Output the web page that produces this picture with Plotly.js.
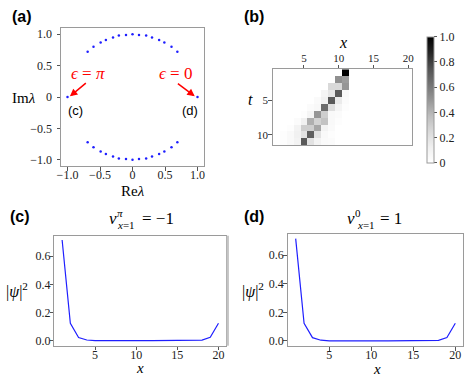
<!DOCTYPE html>
<html>
<head>
<meta charset="utf-8">
<script src="https://cdn.plot.ly/plotly-3.0.1.min.js"></script>
<style>
html,body{margin:0;padding:0;background:#fff;}
#chart{width:469px;height:380px;}
</style>
</head>
<body>
<div id="chart"></div>
<script>
// ---------- Panel (a): eigenvalues ----------
const reArc = [-0.69, -0.60, -0.49, -0.41, -0.30, -0.21, -0.10, 0.00, 0.10, 0.21, 0.30, 0.41, 0.49, 0.60, 0.69];
const imArcTop = [0.72, 0.80, 0.87, 0.91, 0.95, 0.98, 0.99, 1.00, 0.99, 0.98, 0.95, 0.91, 0.87, 0.80, 0.72];
const imArcBottom = [-0.72, -0.80, -0.87, -0.91, -0.95, -0.98, -0.99, -1.00, -0.99, -0.98, -0.95, -0.91, -0.87, -0.80, -0.72];
const reEdge = [-1.0, 1.0];
const imEdge = [0.0, 0.0];

// ---------- Panel (b): |psi|^2 over x (columns) and t (rows) ----------
const xSites = [1,2,3,4,5,6,7,8,9,10,11,12,13,14,15,16,17,18,19,20];
const tSteps = [1,2,3,4,5,6,7,8,9,10,11];
const probRows = [
  [0,0,0,0,0,0,0,0,0,0,1.00,0,0,0,0,0,0,0,0,0],
  [0,0,0,0,0,0,0,0,0,0.52,0.48,0,0,0,0,0,0,0,0,0],
  [0,0,0,0,0,0,0,0,0.25,0.25,0.50,0,0,0,0,0,0,0,0,0],
  [0,0,0,0,0,0,0,0.08,0.18,0.72,0.05,0,0,0,0,0,0,0,0,0],
  [0,0,0,0,0,0,0.04,0.12,0.72,0.15,0.03,0,0,0,0,0,0,0,0,0],
  [0,0,0,0,0,0.03,0.06,0.65,0.22,0.08,0.02,0,0,0,0,0,0,0,0,0],
  [0,0,0,0,0.02,0.08,0.50,0.30,0.05,0.03,0,0,0,0,0,0,0,0,0,0],
  [0,0,0,0.03,0.12,0.42,0.28,0.35,0.05,0.02,0,0,0,0,0,0,0,0,0,0],
  [0,0,0.02,0.10,0.30,0.30,0.45,0.10,0.04,0,0,0,0,0,0,0,0,0,0,0],
  [0,0.02,0.05,0.12,0.20,0.70,0.20,0.05,0.02,0,0,0,0,0,0,0,0,0,0,0],
  [0,0.02,0.05,0.10,0.72,0.20,0.10,0.04,0.03,0,0,0,0,0,0,0,0,0,0,0]
];
const cbTickVals = [0, 0.2, 0.4, 0.6, 0.8, 1.0];
const cbTickText = ['0', '0.2', '0.4', '0.6', '0.8', '1.0'];

// ---------- Panels (c) and (d): edge-state profiles ----------
const xProfile = [1,2,3,4,5,6,7,8,9,10,11,12,13,14,15,16,17,18,19,20];
const psiPi = [0.715, 0.124, 0.023, 0.005, 0.001, 0, 0, 0, 0, 0, 0, 0, 0, 0, 0, 0, 0.001, 0.004, 0.024, 0.124];
const psiZero = [0.715, 0.124, 0.023, 0.005, 0.001, 0, 0, 0, 0, 0, 0, 0, 0, 0, 0, 0, 0.001, 0.004, 0.024, 0.124];

// ---------- helpers ----------
const W = 469, H = 380;
const px = v => v / W;
const py = v => 1 - v / H;
const SERIF = 'Liberation Serif, DejaVu Serif, serif';
const SANS = 'Liberation Sans, Arial, sans-serif';
const LINE = '#9a9a9a';
const TICK = '#555';
const BLUE = '#1f1fff';

function ann(text, x, y, size, opts) {
  return Object.assign({
    text: text, xref: 'paper', yref: 'paper', x: px(x), y: py(y),
    xanchor: 'center', yanchor: 'middle', showarrow: false,
    font: {family: SERIF, size: size, color: '#000'}
  }, opts || {});
}

function baseAxis(extra) {
  return Object.assign({
    showline: true, mirror: true, linecolor: LINE, linewidth: 1,
    ticks: 'outside', ticklen: 3.5, tickwidth: 1, tickcolor: TICK,
    showgrid: false, zeroline: false, fixedrange: true,
    tickfont: {family: SERIF, size: 12, color: '#222'}
  }, extra);
}

const mplGreys = [
  [0.0, 'rgb(255,255,255)'], [0.125, 'rgb(240,240,240)'], [0.25, 'rgb(217,217,217)'],
  [0.375, 'rgb(189,189,189)'], [0.5, 'rgb(150,150,150)'], [0.625, 'rgb(115,115,115)'],
  [0.75, 'rgb(82,82,82)'], [0.875, 'rgb(37,37,37)'], [1.0, 'rgb(0,0,0)']
];

const traces = [
  {type: 'scatter', mode: 'markers', x: reArc, y: imArcTop, xaxis: 'x', yaxis: 'y',
   marker: {color: BLUE, size: 2.5}, hoverinfo: 'skip'},
  {type: 'scatter', mode: 'markers', x: reArc, y: imArcBottom, xaxis: 'x', yaxis: 'y',
   marker: {color: BLUE, size: 2.5}, hoverinfo: 'skip'},
  {type: 'scatter', mode: 'markers', x: reEdge, y: imEdge, xaxis: 'x', yaxis: 'y',
   marker: {color: BLUE, size: 2.5}, hoverinfo: 'skip'},
  {type: 'heatmap', x: xSites, y: tSteps, z: probRows, xaxis: 'x2', yaxis: 'y2',
   zmin: 0, zmax: 1, colorscale: mplGreys, hoverinfo: 'skip',
   colorbar: {
     x: px(427), xanchor: 'left', xpad: 0, ypad: 0,
     y: py(99.7), yanchor: 'middle', len: 126, lenmode: 'pixels',
     thickness: 7, outlinecolor: LINE, outlinewidth: 1,
     ticks: 'outside', ticklen: 3, tickcolor: TICK,
     tickvals: cbTickVals, ticktext: cbTickText,
     tickfont: {family: SERIF, size: 12, color: '#222'}
   }},
  {type: 'scatter', mode: 'lines', x: xProfile, y: psiPi, xaxis: 'x3', yaxis: 'y3',
   line: {color: BLUE, width: 1.2}, hoverinfo: 'skip'},
  {type: 'scatter', mode: 'lines', x: xProfile, y: psiZero, xaxis: 'x4', yaxis: 'y4',
   line: {color: BLUE, width: 1.2}, hoverinfo: 'skip'}
];

const ticksA = [-1, -0.5, 0, 0.5, 1];
const ticksAText = ['\u22121.0', '\u22120.5', '0', '0.5', '1.0'];
const ticksX = [5, 10, 15, 20];
const ticksPsi = [0, 0.2, 0.4, 0.6];
const ticksPsiText = ['0.0', '0.2', '0.4', '0.6'];

const layout = {
  width: W, height: H,
  margin: {l: 0, r: 0, t: 0, b: 0},
  paper_bgcolor: '#fff', plot_bgcolor: '#fff',
  showlegend: false,
  xaxis: baseAxis({domain: [px(61), px(204)], anchor: 'y', range: [-1.1, 1.1],
    tickvals: ticksA, ticktext: ticksAText, ticklabelstandoff: -6}),
  yaxis: baseAxis({domain: [py(166), py(28)], anchor: 'x', range: [-1.1, 1.1],
    tickvals: ticksA, ticktext: ticksAText, ticklabelstandoff: 2}),
  xaxis2: baseAxis({domain: [px(272.7), px(411.7)], anchor: 'y2', side: 'top', range: [0.5, 20.5],
    tickvals: ticksX, ticklabelstandoff: -2, tickfont: {family: SERIF, size: 11, color: '#222'}}),
  yaxis2: baseAxis({domain: [py(145), py(69.3)], anchor: 'x2', range: [11.5, 0.5],
    tickvals: [5, 10], ticklabelstandoff: -2, tickfont: {family: SERIF, size: 11, color: '#222'}}),
  xaxis3: baseAxis({domain: [px(54.3), px(226.3)], anchor: 'y3', range: [0.05, 20.95],
    tickvals: ticksX, ticklabelstandoff: -6}),
  yaxis3: baseAxis({domain: [py(345.7), py(235.7)], anchor: 'x3', range: [-0.0355, 0.7455],
    tickvals: ticksPsi, ticktext: ticksPsiText, ticklabelstandoff: -3}),
  xaxis4: baseAxis({domain: [px(287.7), px(463.3)], anchor: 'y4', range: [0.05, 20.95],
    tickvals: ticksX, ticklabelstandoff: -6}),
  yaxis4: baseAxis({domain: [py(346), py(234.3)], anchor: 'x4', range: [-0.0355, 0.7455],
    tickvals: ticksPsi, ticktext: ticksPsiText, ticklabelstandoff: -3}),
  shapes: [
    {type: 'line', xref: 'x3 domain', yref: 'y3 domain', x0: 1.008, x1: 1.008, y0: 0, y1: 1,
     line: {color: '#c4c4c4', width: 2.5}}
  ],
  annotations: [
    // panel labels
    ann('<b>(a)</b>', 22, 16, 16, {font: {family: SANS, size: 16, color: '#000'}}),
    ann('<b>(b)</b>', 254, 16, 16, {font: {family: SANS, size: 16, color: '#000'}}),
    ann('<b>(c)</b>', 20, 216, 16, {font: {family: SANS, size: 16, color: '#000'}}),
    ann('<b>(d)</b>', 254, 216, 16, {font: {family: SANS, size: 16, color: '#000'}}),
    // panel (a) texts
    ann('Im<i>λ</i>', 24, 98, 15),
    ann('Re<i>λ</i>', 133, 191, 15),
    ann('<i>ϵ</i> = <i>π</i>', 88, 74, 17, {font: {family: SERIF, size: 17, color: '#ff0000'}}),
    ann('<i>ϵ</i> = 0', 175.5, 74, 17, {font: {family: SERIF, size: 17, color: '#ff0000'}}),
    ann('(c)', 75, 110, 13, {font: {family: SANS, size: 13, color: '#000'}}),
    ann('(d)', 189.5, 110, 13, {font: {family: SANS, size: 13, color: '#000'}}),
    {text: '', xref: 'x', yref: 'y', x: -0.963, y: 0.01, axref: 'x', ayref: 'y', ax: -0.695, ay: 0.242,
     showarrow: true, arrowhead: 2, arrowsize: 1, arrowwidth: 1.5, arrowcolor: '#ff0000'},
    {text: '', xref: 'x', yref: 'y', x: 0.958, y: 0.01, axref: 'x', ayref: 'y', ax: 0.675, ay: 0.231,
     showarrow: true, arrowhead: 2, arrowsize: 1, arrowwidth: 1.5, arrowcolor: '#ff0000'},
    // panel (b) axis titles
    ann('<i>x</i>', 342.7, 42, 16),
    ann('<i>t</i>', 250.7, 100, 16),
    // panel (c)
    ann('<i>ν</i>', 113, 218, 17),
    ann('<i>π</i>', 120.5, 213, 11),
    ann('<i>x</i>=1', 126, 225, 11),
    ann('= \u22121', 157.5, 218, 17),
    ann('|<i>ψ</i>|<sup>2</sup>', 17, 290, 16),
    ann('<i>x</i>', 140, 368, 15),
    // panel (d)
    ann('<i>ν</i>', 350.5, 218, 17),
    ann('0', 357.5, 213, 11),
    ann('<i>x</i>=1', 365.5, 225, 11),
    ann('= 1', 391, 218, 17),
    ann('|<i>ψ</i>|<sup>2</sup>', 253, 290, 16),
    ann('<i>x</i>', 376.7, 369, 15)
  ]
};

Plotly.newPlot('chart', traces, layout, {displayModeBar: false, staticPlot: true});
</script>
</body>
</html>
